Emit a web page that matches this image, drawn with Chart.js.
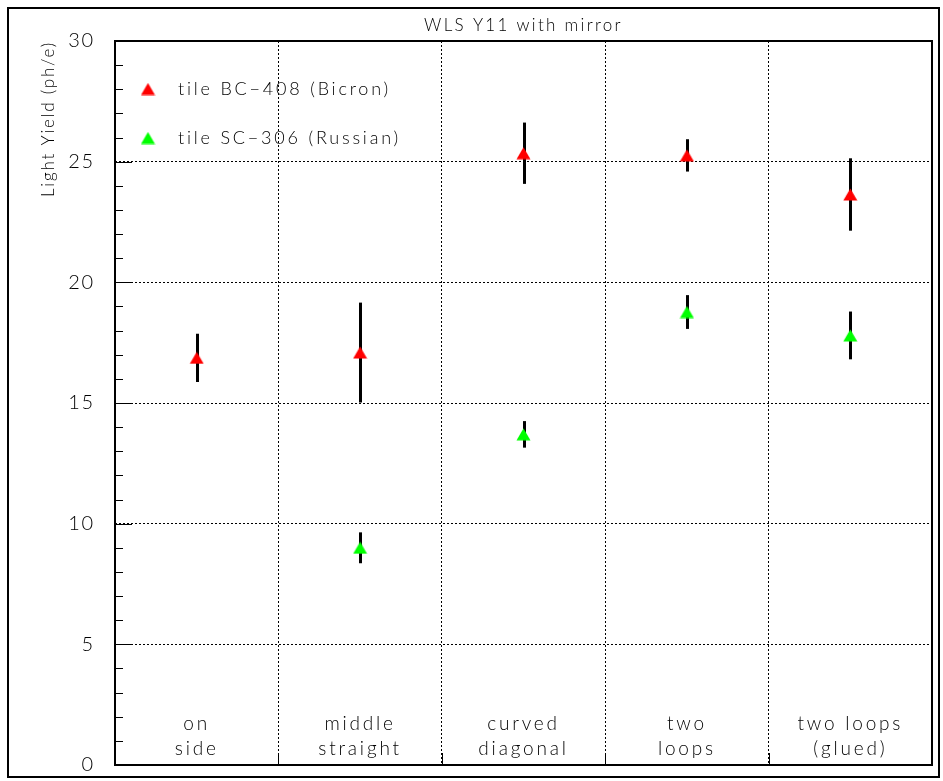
<!DOCTYPE html>
<html>
<head>
<meta charset="utf-8">
<script src="https://cdn.jsdelivr.net/npm/chart.js@4/dist/chart.umd.min.js"></script>
<style>
  html, body { margin: 0; padding: 0; background: #fff; }
  #c { display: block; }
</style>
</head>
<body>
<canvas id="c" width="943" height="781"></canvas>
<script>
// ---- data ----
const categories = [["on", "side"], ["middle", "straight"], ["curved", "diagonal"], ["two", "loops"], ["two loops", "(glued)"]];
const bicronCat = [0, 1, 2, 3, 4];
const bicronY = [16.87, 17.09, 25.35, 25.26, 23.64];
const bicronErr = [1.00, 2.07, 1.27, 0.67, 1.50];
const russianCat = [1, 2, 3, 4];
const russianY = [9.00, 13.70, 18.77, 17.80];
const russianErr = [0.64, 0.55, 0.70, 0.99];
const yTicks = [0, 5, 10, 15, 20, 25, 30];
const seriesNames = ["tile BC\u2212408 (Bicron)", "tile SC\u2212306 (Russian)"];
const titleText = "WLS Y11 with mirror";
const yTitle = "Light Yield (ph/e)";

const FONT = "Lato, 'Open Sans', 'DejaVu Sans', sans-serif";

function triCanvas(color) {
  const c = document.createElement('canvas');
  c.width = 15; c.height = 13;
  const g = c.getContext('2d');
  g.fillStyle = color;
  g.beginPath();
  g.moveTo(0.5, 12.5); g.lineTo(14.5, 12.5); g.lineTo(7.5, 0.5); g.closePath();
  g.fill();
  return c;
}
const redTri = triCanvas('#ff0000');
const greenTri = triCanvas('#00ff00');

const bicronData = bicronCat.map((c, i) => ({x: c + 0.5, y: bicronY[i], err: bicronErr[i]}));
const russianData = russianCat.map((c, i) => ({x: c + 0.5, y: russianY[i], err: russianErr[i]}));

const decor = {
  id: 'decor',
  beforeDraw(chart) {
    const ctx = chart.ctx;
    ctx.save();
    ctx.fillStyle = '#fff';
    ctx.fillRect(0, 0, chart.width, chart.height);
    ctx.restore();
    ctx.letterSpacing = '1.8px';
  },
  beforeDatasetsDraw(chart) {
    const ctx = chart.ctx, xs = chart.scales.x, ys = chart.scales.y;
    ctx.save();
    ctx.strokeStyle = '#000';
    ctx.lineWidth = 3;
    chart.data.datasets.forEach(ds => {
      ds.data.forEach(p => {
        const x = Math.round(xs.getPixelForValue(p.x)) + 0.5;
        ctx.beginPath();
        ctx.moveTo(x, ys.getPixelForValue(p.y - p.err));
        ctx.lineTo(x, ys.getPixelForValue(p.y + p.err));
        ctx.stroke();
      });
    });
    ctx.restore();
  },
  afterDraw(chart) {
    const ctx = chart.ctx, a = chart.chartArea, xs = chart.scales.x, ys = chart.scales.y;
    ctx.save();
    // inner ticks on y axis
    ctx.strokeStyle = '#000';
    ctx.lineWidth = 1;
    for (let v = 0; v <= 30; v++) {
      const y = Math.round(ys.getPixelForValue(v)) + 0.5;
      const len = (v % 5 === 0) ? 17 : 8;
      ctx.beginPath(); ctx.moveTo(a.left, y); ctx.lineTo(a.left + len, y); ctx.stroke();
    }
    // bottom ticks at category boundaries
    for (let v = 1; v < categories.length; v++) {
      const x = Math.round(xs.getPixelForValue(v)) + 0.5;
      ctx.beginPath(); ctx.moveTo(x, a.bottom); ctx.lineTo(x, a.bottom - 12); ctx.stroke();
    }
    // frame
    ctx.lineWidth = 2;
    ctx.strokeRect(a.left, a.top, a.right - a.left, a.bottom - a.top);
    // outer canvas frame
    ctx.strokeRect(8, 8, chart.width - 12, chart.height - 12);

    // category labels
    ctx.fillStyle = '#000';
    ctx.letterSpacing = '2.8px';
    ctx.font = "300 19px " + FONT;
    ctx.textAlign = 'center';
    ctx.textBaseline = 'alphabetic';
    categories.forEach((lines, i) => {
      const x = xs.getPixelForValue(i + 0.5);
      ctx.fillText(lines[0], x, a.bottom - 35);
      ctx.fillText(lines[1], x, a.bottom - 10);
    });

    // legend
    ctx.font = "300 18px " + FONT;
    ctx.letterSpacing = '2.8px';
    ctx.textAlign = 'left';
    ctx.textBaseline = 'middle';
    [[redTri, 0], [greenTri, 1]].forEach(([img, k]) => {
      const cy = a.top + 48 + k * 49;
      ctx.drawImage(img, a.left + 33 - img.width / 2, cy - img.height / 2);
      ctx.fillText(seriesNames[k], a.left + 63, cy);
    });

    // title
    ctx.font = "300 17px " + FONT;
    ctx.letterSpacing = '2.3px';
    ctx.textAlign = 'center';
    ctx.textBaseline = 'alphabetic';
    ctx.fillText(titleText, (a.left + a.right) / 2, 31);
    ctx.restore();
    ctx.letterSpacing = '0px';
  }
};

const gridColorX = c => (c.tick && c.tick.value > 0 && c.tick.value < categories.length) ? '#000' : 'rgba(0,0,0,0)';
const gridColorY = c => (c.tick && c.tick.value > 0 && c.tick.value < 30) ? '#000' : 'rgba(0,0,0,0)';

new Chart(document.getElementById('c'), {
  type: 'scatter',
  data: {
    datasets: [
      { label: seriesNames[0], data: bicronData, pointStyle: redTri, pointRadius: 8, backgroundColor: '#ff0000', borderColor: '#ff0000' },
      { label: seriesNames[1], data: russianData, pointStyle: greenTri, pointRadius: 8, backgroundColor: '#00ff00', borderColor: '#00ff00' }
    ]
  },
  options: {
    responsive: false,
    animation: false,
    devicePixelRatio: 1,
    layout: { padding: { left: 0, top: 41, right: 11, bottom: 16 } },
    plugins: { legend: { display: false }, tooltip: { enabled: false }, title: { display: false } },
    scales: {
      x: {
        type: 'linear', min: 0, max: categories.length,
        afterFit: s => { s.height = 0; s.paddingLeft = 0; s.paddingRight = 0; },
        ticks: { display: false, stepSize: 1 },
        grid: { color: gridColorX, lineWidth: 1, drawTicks: false },
        border: { display: false, dash: [2, 2] }
      },
      y: {
        min: 0, max: 30,
        afterFit: s => { s.width = 115; s.paddingTop = 0; s.paddingBottom = 0; },
        afterBuildTicks: s => { s.ticks = yTicks.map(v => ({value: v})); },
        ticks: { color: '#000', padding: 20, font: { family: FONT, size: 20, weight: '300' } },
        grid: { color: gridColorY, lineWidth: 1, drawTicks: false },
        border: { display: false, dash: [2, 2] },
        title: { display: true, text: yTitle, align: 'end', color: '#000', font: { family: FONT, size: 17, weight: '300' }, padding: { top: 38, bottom: 0 } }
      }
    }
  },
  plugins: [decor]
});
</script>
</body>
</html>
